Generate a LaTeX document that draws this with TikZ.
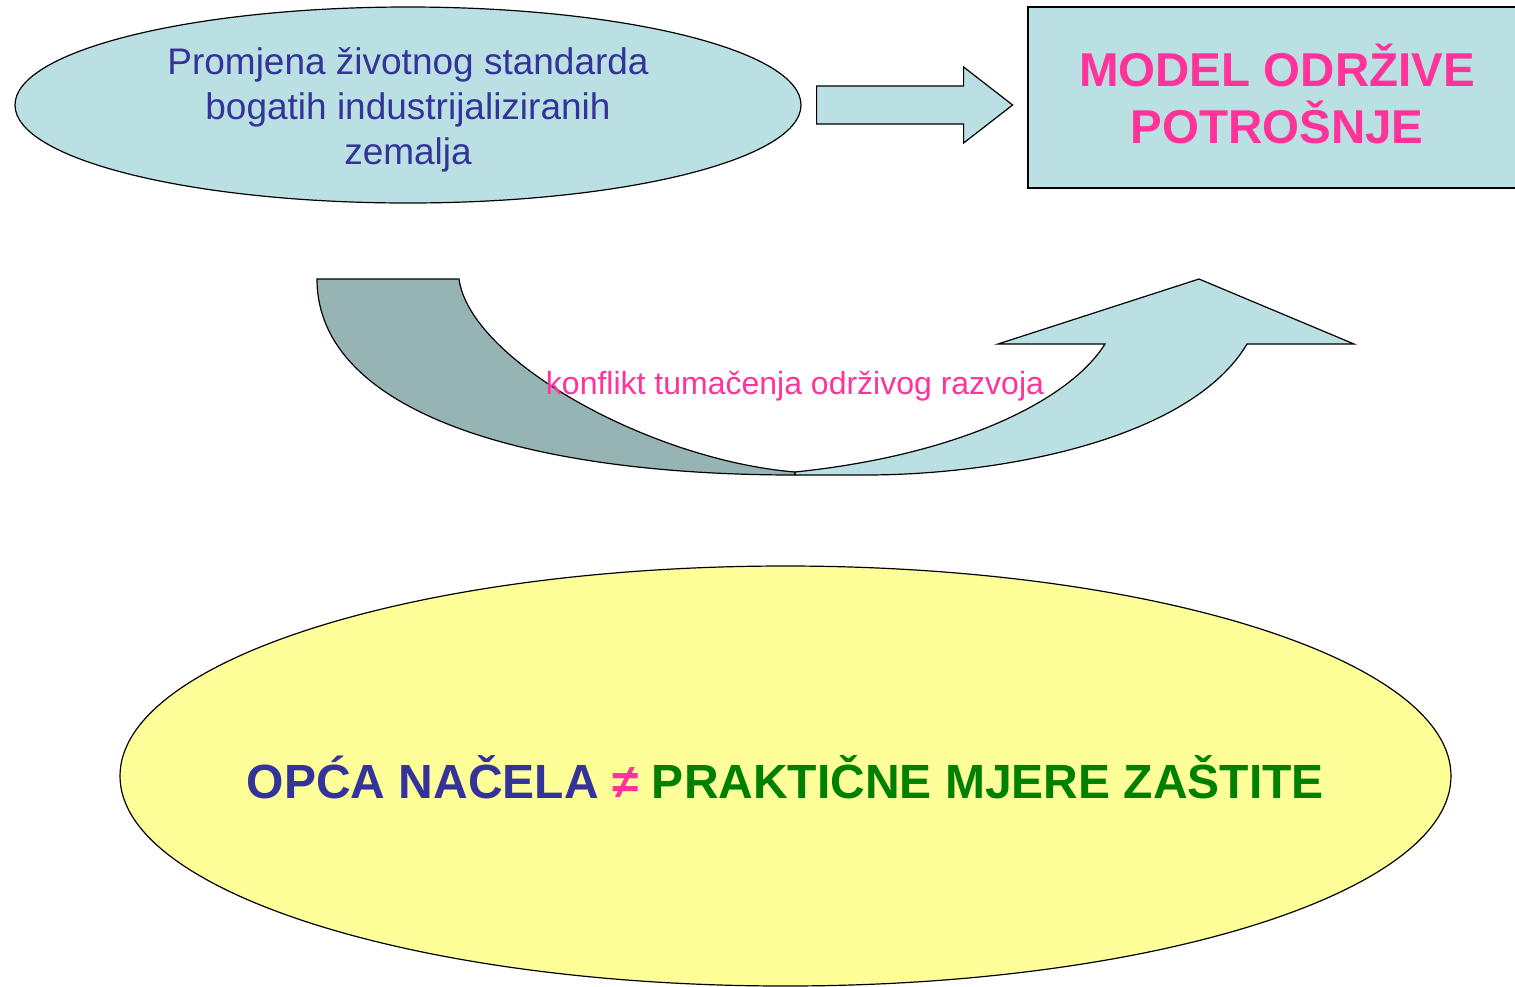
\documentclass[tikz,border=0pt]{standalone}
\usepackage{fontspec}
\setmainfont{Liberation Sans}
\usetikzlibrary{shapes.geometric}
\definecolor{lightteal}{HTML}{BBE0E3}
\definecolor{darkteal}{HTML}{96B4B4}
\definecolor{paleyellow}{HTML}{FFFF99}
\definecolor{textblue}{HTML}{333399}
\definecolor{textpink}{HTML}{FF3399}
\definecolor{textgreen}{HTML}{008000}

\begin{document}
\begin{tikzpicture}[x=1pt,y=-1pt,line width=1.2pt,
  outline/.style={draw=black,line join=miter}]
\useasboundingbox (0,0) rectangle (1515,986);

\node[ellipse,outline,fill=lightteal,minimum width=786pt,minimum height=196pt,inner sep=0pt]
  (change) at (408,105) {};
\node[align=center,text=textblue,font=\fontsize{37}{45}\selectfont]
  (changetext) at ([yshift=-5pt]change.center) {Promjena životnog standarda\\bogatih industrijaliziranih\\zemalja};
\node[rectangle,outline,fill=lightteal,minimum width=498pt,minimum height=181pt,inner sep=0pt]
  (model) at (1277,97.5) {};
\node[align=center,text=textpink,font=\bfseries\fontsize{47.5}{57}\selectfont]
  (modeltext) at ([yshift=4pt]model.center) {MODEL ODRŽIVE\\POTROŠNJE};

\draw[outline,fill=lightteal] ([xshift=15pt,yshift=19pt]change.east) -- ++(147,0) -- ++(0,-19)
  -- ++(49,38) -- ++(-49,38) -- ++(0,-19) -- ++(-147,0) -- cycle;

            {
    \def\backbend{(317,279) -- (459,279) .. controls (470,360) and (650,460) .. (795,472)
      -- (795,475) .. controls (520,475) and (317,410) .. (317,279)}
    \def\frontbend{(795,472) .. controls (960,455) and (1070,400) .. (1105,344) -- (998,344)
      -- (1199,279) -- (1354,344) -- (1247,344) .. controls (1190,440) and (1000,475) .. (865,475)
      -- (795,475)}

    \fill[darkteal] \backbend -- cycle;
    \fill[lightteal] \frontbend -- cycle;

    \draw[outline] \backbend -- cycle;
    \draw[outline] \frontbend -- cycle;
}

\node[text=textpink,font=\fontsize{32}{38}\selectfont] (conflict) at (795,386)
  {konflikt tumačenja održivog razvoja};

\node[ellipse,outline,fill=paleyellow,minimum width=1331pt,minimum height=420pt,inner sep=0pt]
  (principles) at (785.5,776) {};
\node[font=\bfseries\fontsize{48}{58}\selectfont] (principlestext) at ([yshift=-1pt]principles.center)
  {\textcolor{textblue}{OPĆA NAČELA} \textcolor{textpink}{≠} \textcolor{textgreen}{PRAKTIČNE MJERE ZAŠTITE}};

\end{tikzpicture}
\end{document}
